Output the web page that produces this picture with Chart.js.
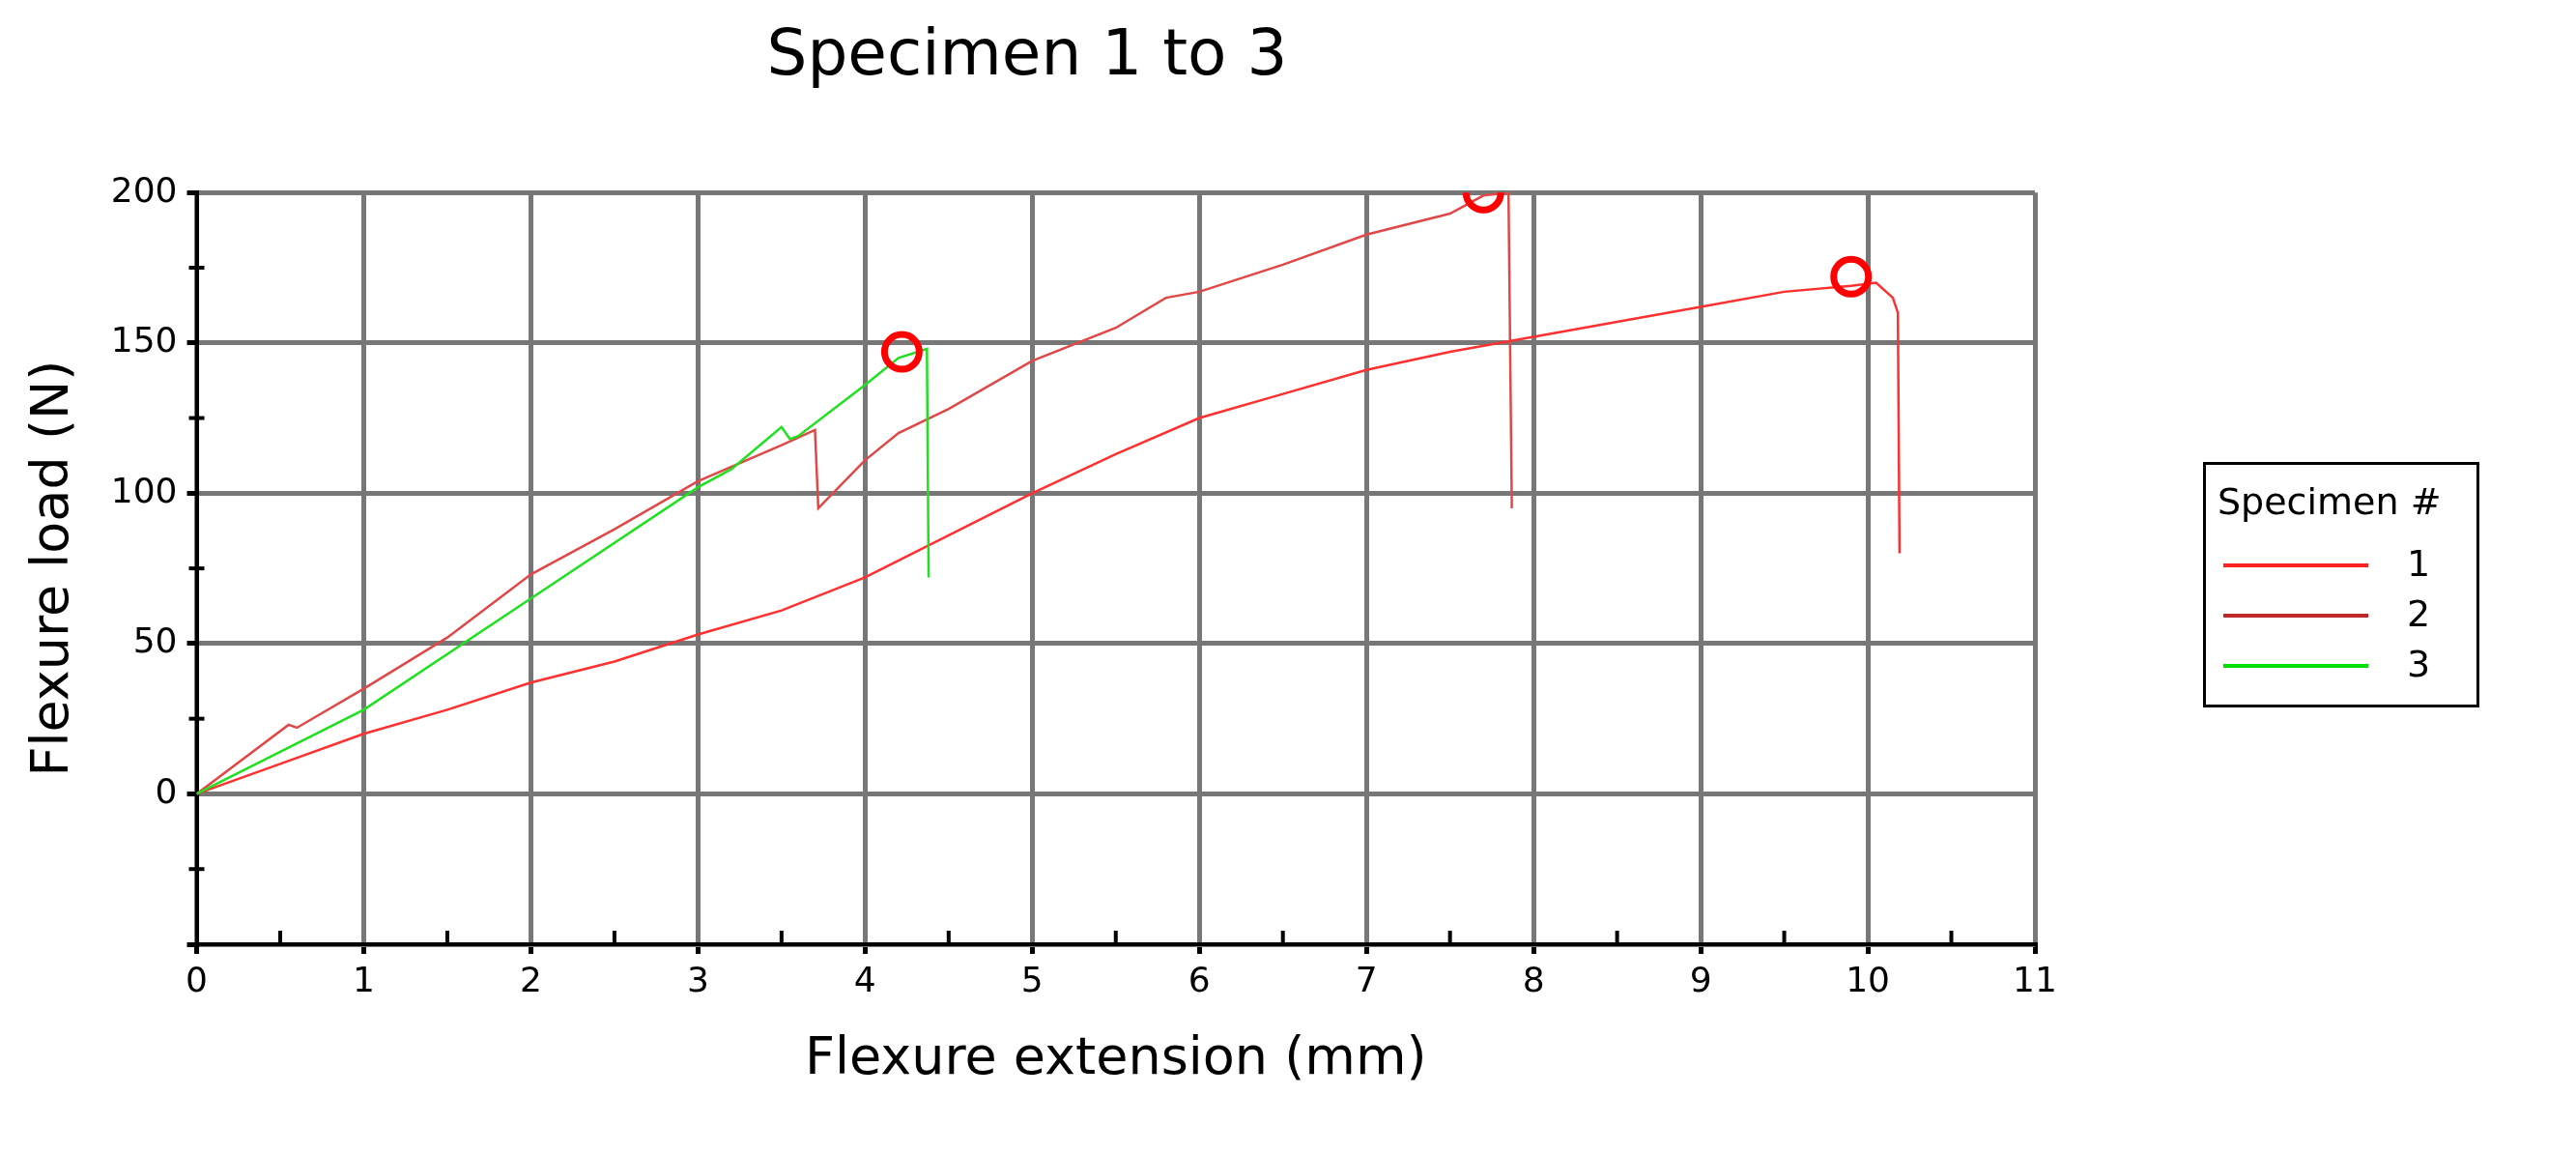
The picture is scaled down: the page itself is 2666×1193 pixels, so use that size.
<!DOCTYPE html>
<html><head><meta charset="utf-8">
<script src="https://cdn.jsdelivr.net/npm/chart.js@4"></script>
<style>
html,body{margin:0;padding:0;background:#fff;}
#wrap{position:relative;width:2666px;height:1193px;}
#legend{position:absolute;left:2280px;top:478px;width:286px;height:254px;border:3px solid #000;box-sizing:border-box;font-family:"DejaVu Sans";font-size:38px;color:#000;}
#legend .t{position:absolute;left:12px;top:16px;}
#legend .r{position:absolute;left:18px;width:250px;height:44px;}
#legend .r i{position:absolute;left:0;top:22px;width:150px;height:4px;}
#legend .r span{position:absolute;left:190px;top:0;}
</style></head><body>
<div id="wrap"><canvas id="c" width="2666" height="1193"></canvas>
<div id="legend"><div class="t">Specimen #</div>
<div class="r" style="top:80px"><i style="background:#ff2020"></i><span>1</span></div>
<div class="r" style="top:132px"><i style="background:#c02828"></i><span>2</span></div>
<div class="r" style="top:184px"><i style="background:#00e000"></i><span>3</span></div>
</div></div>
<script>
const s1x=[0,0.5,1,1.5,2,2.5,3,3.5,4,4.5,5,5.5,6,6.5,7,7.5,8,8.5,9,9.5,9.9,10.05,10.15,10.18,10.19];
const s1y=[0,10,20,28,37,44,53,61,72,86,100,113,125,133,141,147,152,157,162,167,169,170,165,160,80];
const s2x=[0,0.55,0.6,1,1.5,2,2.5,3,3.5,3.7,3.72,4,4.2,4.5,5,5.5,5.8,6,6.5,7,7.5,7.7,7.85,7.87];
const s2y=[0,23,22,35,52,73,88,104,116,121,95,111,120,128,144,155,165,167,176,186,193,199,200,95];
const s3x=[0,1,2,3,3.2,3.5,3.55,3.6,4,4.2,4.37,4.38];
const s3y=[0,28,65,102,108,122,118,119,136,145,148,72];
const peakX=[4.22,7.7,9.9];
const peakY=[147,200,172];
const xTicks=[0,1,2,3,4,5,6,7,8,9,10,11];
const yTicks=[0,50,100,150,200];
const pts=(xs,ys)=>xs.map((x,i)=>({x,y:ys[i]}));
const F="DejaVu Sans";
const minor={id:'minor',afterDraw(ch){const c=ch.ctx,x=ch.scales.x,y=ch.scales.y;c.save();c.strokeStyle='#000';c.lineWidth=4;
for(let v=0.5;v<11;v+=1){const px=x.getPixelForValue(v);c.beginPath();c.moveTo(px,y.bottom);c.lineTo(px,y.bottom-14);c.stroke();}
for(let v=-25;v<200;v+=50){const py=y.getPixelForValue(v);c.beginPath();c.moveTo(x.left-8,py);c.lineTo(x.left+8,py);c.stroke();}
c.restore();}};
new Chart(document.getElementById('c'),{type:'scatter',
data:{datasets:[
{data:pts(s1x,s1y),showLine:true,borderColor:'#ff3030',borderWidth:2.5,pointRadius:0,order:3},
{data:pts(s2x,s2y),showLine:true,borderColor:'#e04848',borderWidth:2.5,pointRadius:0,order:2},
{data:pts(s3x,s3y),showLine:true,borderColor:'#20e020',borderWidth:2.5,pointRadius:0,order:1},
{data:pts(peakX,peakY),showLine:false,pointRadius:18,pointBorderWidth:7,pointBorderColor:'#ff0000',pointBackgroundColor:'rgba(0,0,0,0)',order:0}
]},
options:{responsive:false,animation:false,
layout:{padding:{left:20,right:560,top:10,bottom:60}},
plugins:{legend:{display:false},tooltip:{enabled:false},
title:{display:true,text:'Specimen 1 to 3',color:'#000',font:{family:F,size:66,weight:'normal'},padding:{top:10,bottom:100}}},
scales:{
x:{type:'linear',min:0,max:11,afterBuildTicks:a=>{a.ticks=xTicks.map(v=>({value:v}));},
ticks:{color:'#000',font:{family:F,size:36},padding:8},
grid:{color:'#777',lineWidth:5,tickLength:10,tickColor:'#000'},border:{color:'#000',width:4},
title:{display:true,text:'Flexure extension (mm)',color:'#000',font:{family:F,size:54},padding:{top:18}}},
y:{min:-50,max:200,afterBuildTicks:a=>{a.ticks=[-50].concat(yTicks).map(v=>({value:v}));},
ticks:{color:'#000',font:{family:F,size:36},padding:10,callback:v=>v<0?'':v},
grid:{color:'#777',lineWidth:5,tickLength:10,tickColor:'#000'},border:{color:'#000',width:4},
title:{display:true,text:'Flexure load (N)',color:'#000',font:{family:F,size:54},padding:{bottom:16}}}
}},plugins:[minor]});
</script></body></html>
